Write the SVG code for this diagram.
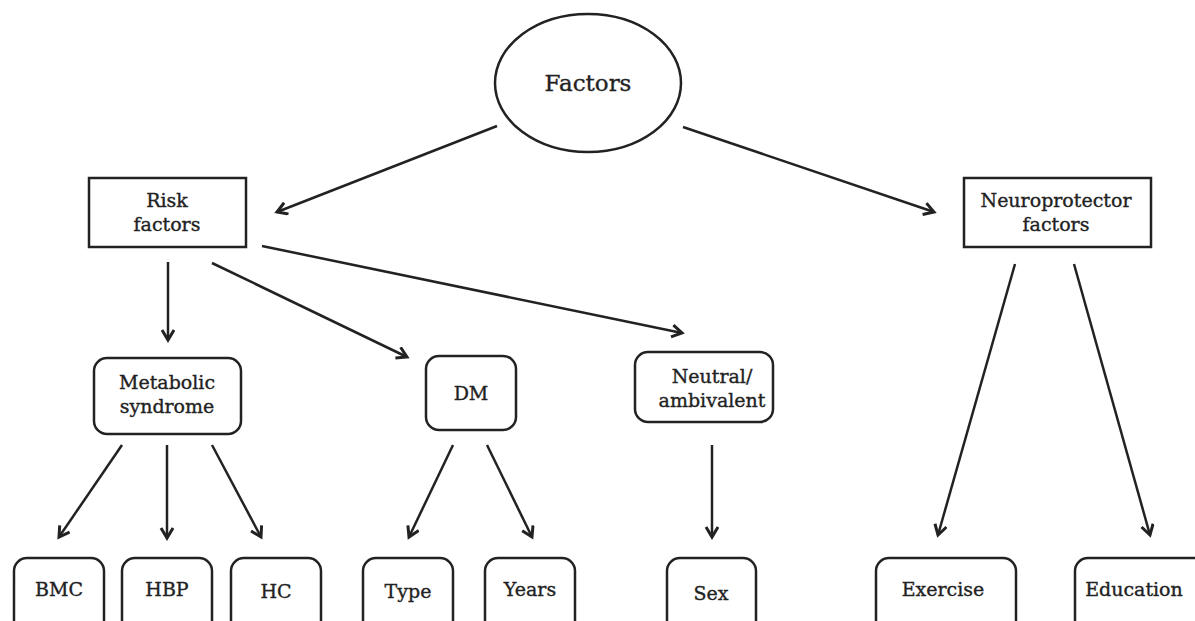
<svg xmlns="http://www.w3.org/2000/svg" width="1195" height="621" viewBox="0 0 1195 621">
<style>
.box{fill:#fff;stroke:#222;stroke-width:2.5}
.lbl{font-family:"DejaVu Serif","Liberation Serif",serif;font-size:19px;fill:#222;stroke:#222;stroke-width:0.35;text-anchor:middle}
.big{font-size:23px}
.conn line{stroke:#222;stroke-width:2.5;fill:none}
</style>
<defs>
<marker id="arr" markerUnits="userSpaceOnUse" markerWidth="16" markerHeight="16" refX="11" refY="7" orient="auto">
<path d="M1,1 L11,7 L1,13" fill="none" stroke="#222" stroke-width="3" stroke-linejoin="miter"/>
</marker>
</defs>
<rect width="1195" height="621" fill="#fff"/>
<g id="connectors" class="conn">
<line x1="497" y1="126" x2="277" y2="212" marker-end="url(#arr)"/>
<line x1="683" y1="127" x2="934" y2="212" marker-end="url(#arr)"/>
<line x1="168" y1="262" x2="168" y2="340" marker-end="url(#arr)"/>
<line x1="212" y1="263" x2="407" y2="357" marker-end="url(#arr)"/>
<line x1="262" y1="246" x2="682" y2="333" marker-end="url(#arr)"/>
<line x1="122" y1="445" x2="59" y2="537" marker-end="url(#arr)"/>
<line x1="167" y1="445" x2="167" y2="538" marker-end="url(#arr)"/>
<line x1="212" y1="445" x2="261" y2="537" marker-end="url(#arr)"/>
<line x1="453" y1="445" x2="409" y2="537" marker-end="url(#arr)"/>
<line x1="487" y1="445" x2="532" y2="537" marker-end="url(#arr)"/>
<line x1="712" y1="445" x2="712" y2="537" marker-end="url(#arr)"/>
<line x1="1015" y1="264" x2="938" y2="535" marker-end="url(#arr)"/>
<line x1="1074" y1="264" x2="1150" y2="535" marker-end="url(#arr)"/>
</g>
<g id="factors">
<ellipse class="box" cx="588" cy="83" rx="93" ry="69"/>
<text class="lbl big" x="588" y="91">Factors</text>
</g>
<g id="risk">
<rect class="box" x="89" y="178" width="157" height="69"/>
<text class="lbl" x="167" y="207">Risk</text>
<text class="lbl" x="167" y="231">factors</text>
</g>
<g id="neuro">
<rect class="box" x="964" y="178" width="187" height="69"/>
<text class="lbl" x="1056" y="207">Neuroprotector</text>
<text class="lbl" x="1056" y="231">factors</text>
</g>
<g id="metabolic">
<rect class="box" x="94" y="358" width="147" height="76" rx="13"/>
<text class="lbl" x="167" y="389">Metabolic</text>
<text class="lbl" x="167" y="413">syndrome</text>
</g>
<g id="dm">
<rect class="box" x="426" y="356" width="90" height="74" rx="13"/>
<text class="lbl" x="471" y="400">DM</text>
</g>
<g id="neutral">
<rect class="box" x="635" y="352" width="138" height="70" rx="13"/>
<text class="lbl" x="712" y="383">Neutral/</text>
<text class="lbl" x="712" y="407">ambivalent</text>
</g>
<g id="bmc"><rect class="box" x="14" y="558" width="90" height="80" rx="13"/><text class="lbl" x="59" y="596">BMC</text></g>
<g id="hbp"><rect class="box" x="122" y="558" width="90" height="80" rx="13"/><text class="lbl" x="167" y="596">HBP</text></g>
<g id="hc"><rect class="box" x="231" y="558" width="90" height="80" rx="13"/><text class="lbl" x="276" y="598">HC</text></g>
<g id="type"><rect class="box" x="363" y="558" width="90" height="80" rx="13"/><text class="lbl" x="408" y="598">Type</text></g>
<g id="years"><rect class="box" x="485" y="558" width="90" height="80" rx="13"/><text class="lbl" x="530" y="596">Years</text></g>
<g id="sex"><rect class="box" x="667" y="558" width="89" height="80" rx="13"/><text class="lbl" x="711" y="600">Sex</text></g>
<g id="exercise"><rect class="box" x="876" y="558" width="140" height="80" rx="13"/><text class="lbl" x="943" y="596">Exercise</text></g>
<g id="education"><rect class="box" x="1075" y="558" width="135" height="80" rx="13"/><text class="lbl" x="1134" y="596">Education</text></g>
</svg>
